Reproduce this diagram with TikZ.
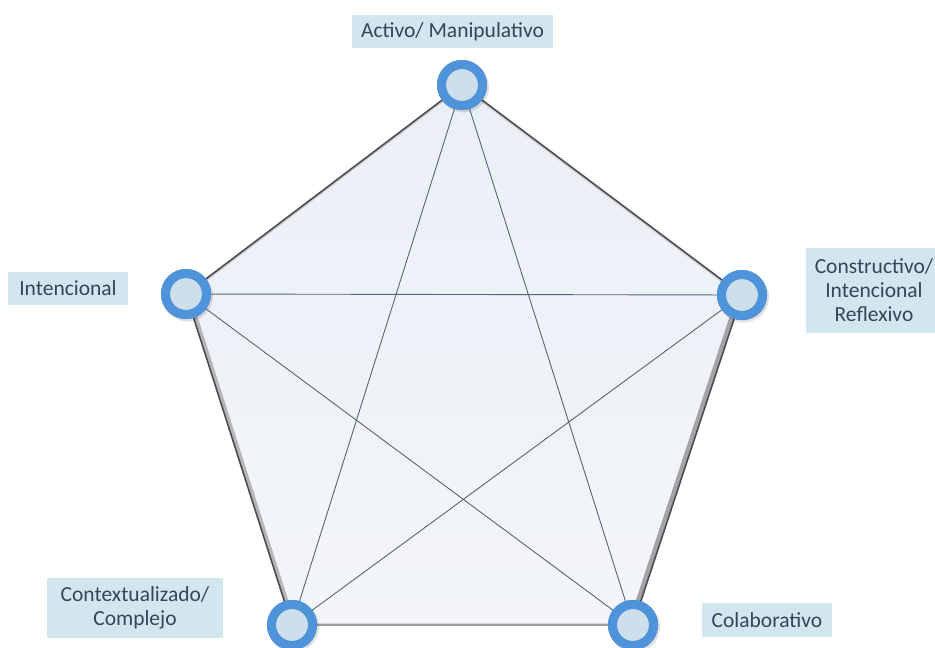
\documentclass[tikz,border=0pt]{standalone}
\usepackage{fontspec}
\setmainfont{Carlito}
\definecolor{ringblue}{HTML}{4F93DA}
\definecolor{ringin}{HTML}{CCDFEA}
\definecolor{lblbg}{HTML}{D3E5EE}
\definecolor{lbltxt}{HTML}{34465A}
\definecolor{edgecol}{HTML}{4E4E4E}
\definecolor{bandcol}{HTML}{A4A4A8}
\definecolor{starcol}{HTML}{56657A}
\definecolor{fillA}{HTML}{EAF0F7}
\definecolor{fillB}{HTML}{F3F5F9}
\begin{document}
\begin{tikzpicture}[x=1pt,y=-1pt,
  lbl/.style={fill=lblbg, text=lbltxt, inner sep=0pt, align=center,
    font=\fontsize{21.5}{24}\selectfont},
  ringnode/.style={circle, draw=ringblue, line width=9pt, fill=ringin,
    minimum size=41pt, inner sep=0pt},
  starline/.style={draw=starcol, line width=0.9pt}
]
\useasboundingbox (0,0) rectangle (935,648);
\fill[white] (0,0) rectangle (935,648);
\begin{scope}
\clip (0,0) rectangle (935,648);
% vertices
\coordinate (pT) at (462,85);
\coordinate (pL) at (186,294);
\coordinate (pR) at (742,295);
\coordinate (pBL) at (292,625);
\coordinate (pBR) at (633,625);
% pentagon fill
\shade[top color=fillA, bottom color=fillB] (pT) -- (pR) -- (pBR) -- (pBL) -- (pL) -- cycle;
% inner bevel band
\begin{scope}
\clip (pT) -- (pR) -- (pBR) -- (pBL) -- (pL) -- cycle;
\draw[bandcol, line width=10pt, line join=round] (pR) -- (pBR);
\draw[bandcol!80, line width=8pt, line join=round] (pBL) -- (pL);
\draw[bandcol!60, line width=4pt, line join=round] (pT) -- (pR);
\draw[bandcol!60, line width=4pt, line join=round] (pL) -- (pT);
\draw[white!55!bandcol, line width=5pt] (pBL) -- (pBR);
\end{scope}
\draw[edgecol, line width=1.6pt, line join=round] (pBR) -- (pR) -- (pT) -- (pL) -- (pBL);
\draw[gray!75, line width=1.2pt] (pBL) -- (pBR);
% rings (nodes)
\node[ringnode] (T) at (pT) {};
\node[ringnode] (L) at (pL) {};
\node[ringnode] (R) at (pR) {};
\node[ringnode] (BL) at (pBL) {};
\node[ringnode] (BR) at (pBR) {};
% star lines
\path[starline] (T.center) -- (BL.center);
\path[starline] (T.center) -- (BR.center);
\path[starline] (L.center) -- (R.center);
\path[starline] (L.center) -- (BR.center);
\path[starline] (R.center) -- (BL.center);
% rings on top of the lines
\foreach \n in {T,L,R,BL,BR}{
  \fill[black, opacity=0.12] ([shift={(1.5,2)}]\n.center) circle (25.5);
  \draw[ringblue, line width=9pt, fill=ringin] (\n.center) circle (20.5);
}
% labels
\node[lbl, minimum width=201pt, minimum height=33pt] (lA) at (452.5,31.5) {Activo/ Manipulativo};
\node[lbl, minimum width=120pt, minimum height=33pt] (lI) at (68,288.5) {Intencional};
\node[lbl, minimum width=136pt, minimum height=85pt] (lC) at (874,290.5) {Constructivo/\\Intencional\\Reflexivo};
\node[lbl, minimum width=176pt, minimum height=60pt] (lX) at (135,608) {Contextualizado/\\Complejo};
\node[lbl, minimum width=130pt, minimum height=34pt] (lO) at (767,620) {Colaborativo};
\end{scope}
\end{tikzpicture}
\end{document}
